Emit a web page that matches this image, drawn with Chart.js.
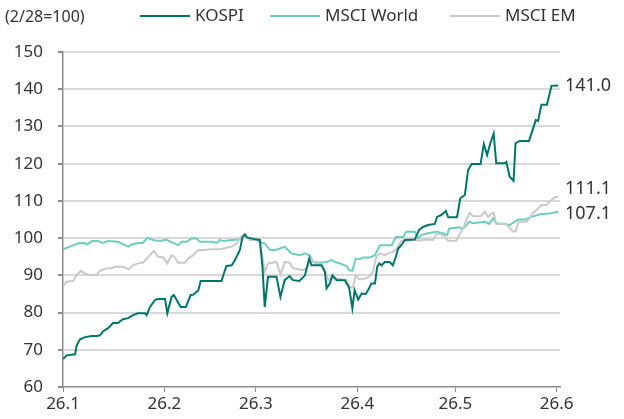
<!DOCTYPE html>
<html>
<head>
<meta charset="utf-8">
<script src="https://cdn.jsdelivr.net/npm/chart.js@4/dist/chart.umd.min.js"></script>
<style>
  html, body { margin: 0; padding: 0; background: #fff; }
  #wrap { width: 624px; height: 419px; position: relative; }
</style>
</head>
<body>
<div id="wrap"><canvas id="idxChart" width="624" height="419"></canvas></div>
<script>
// x = days since 2026-01-01
const monthDays = [0, 31, 59, 90, 120, 151];
const monthLabels = ['26.1', '26.2', '26.3', '26.4', '26.5', '26.6'];
const yTicks = [60, 70, 80, 90, 100, 110, 120, 130, 140, 150];
const unitNote = '(2/28=100)';
const seriesNames = ['KOSPI', 'MSCI World', 'MSCI EM'];
const seriesColors = ['#00766a', '#6ccfbe', '#c9c9c9'];
const endLabels = ['141.0', '107.1', '111.1'];

const kospiDays = [0, 1.1, 3.7, 4.2, 5.2, 6.7, 8.8, 10.3, 11.3, 12.3, 13.8, 15.3, 16.8, 18.3, 19.9, 21.4, 22.9, 25.1, 25.6, 26.6,
  28.1, 28.6, 31.2, 31.9, 33.2, 33.9, 34.8, 36.0, 37.6, 39.0, 39.8, 41.4, 42.1, 48.5, 49.2, 50.0, 51.6, 52.6, 54.1, 54.9,
  55.6, 56.3, 59.2, 60.2, 61.0, 61.7, 62.7, 65.3, 66.5, 67.8, 69.3, 70.3, 72.3, 74.0, 75.3, 76.0, 79.1, 80.1, 80.6, 81.6,
  82.4, 83.7, 86.2, 87.5, 88.5, 89.2, 90.3, 91.3, 92.6, 93.6, 94.3, 95.4, 96.1, 96.7, 97.4, 98.4, 99.9, 100.9, 101.8, 102.5,
  103.5, 104.5, 107.6, 108.9, 110.1, 111.6, 113.7, 114.4, 115.7, 117.1, 117.8, 120.5, 121.5, 122.9, 123.9, 125.0, 127.7, 128.7, 129.7, 130.7,
  131.7, 132.5, 135.1, 135.6, 136.6, 137.8, 138.4, 139.7, 142.5, 143.6, 144.6, 145.3, 146.3, 148.0, 149.4, 151.4];
const kospiVals = [67.5, 68.5, 68.8, 71.2, 72.8, 73.4, 73.7, 73.7, 73.9, 75.0, 75.8, 77.2, 77.2, 78.2, 78.5, 79.3, 79.8, 79.8, 79.3, 81.5,
  83.3, 83.6, 83.7, 79.8, 84.2, 84.7, 83.3, 81.5, 81.5, 84.7, 84.8, 86.0, 88.5, 88.5, 90.5, 92.5, 92.7, 94.1, 96.8, 100.3,
  101.0, 100.2, 99.6, 99.5, 92.3, 81.5, 89.6, 89.6, 84.2, 88.7, 89.8, 88.7, 88.5, 90.0, 94.5, 92.7, 92.7, 90.9, 86.5, 87.8,
  90.0, 88.7, 88.7, 86.7, 81.1, 86.0, 83.5, 85.1, 85.0, 86.5, 87.8, 87.8, 92.3, 93.2, 92.7, 93.6, 93.6, 92.7, 95.0, 97.2,
  98.1, 99.5, 99.6, 102.2, 103.0, 103.5, 103.8, 105.7, 106.2, 107.3, 105.6, 105.6, 110.7, 111.6, 118.3, 119.9, 119.9, 125.3, 122.3, 125.5,
  128.1, 120.1, 120.1, 120.5, 116.5, 115.4, 125.5, 126.1, 126.1, 129.0, 131.7, 131.5, 135.8, 135.8, 140.9, 141.0];

const worldDays = [0, 2.1, 4.7, 6.7, 7.4, 8.8, 10.8, 12.1, 13.8, 16.9, 18.4, 20.0, 21.0, 23.0, 24.4, 25.8, 27.1, 28.6, 30.2, 31.5,
  33.7, 35.2, 36.3, 37.8, 39.3, 40.9, 41.9, 45.9, 47.0, 48.0, 49.0, 51.6, 54.1, 55.6, 57.1, 59.2, 60.7, 61.7, 63.3, 64.8,
  66.3, 67.8, 69.9, 72.4, 74.0, 75.5, 76.5, 78.5, 80.6, 82.1, 83.1, 84.7, 86.7, 87.5, 88.5, 89.5, 90.8, 91.8, 93.8, 95.4,
  96.9, 100.5, 101.8, 104.0, 105.0, 107.6, 108.6, 109.6, 111.6, 114.2, 116.2, 117.5, 118.1, 121.3, 122.3, 123.4, 124.2, 125.4, 129.0, 130.3,
  131.5, 132.5, 135.6, 136.6, 139.2, 141.7, 143.2, 146.3, 148.8, 151.4];
const worldVals = [97.0, 97.7, 98.6, 98.7, 98.3, 99.2, 99.2, 98.7, 99.2, 99.0, 98.3, 97.7, 98.3, 98.7, 98.7, 100.1, 99.6, 99.3, 99.3, 99.6,
  98.7, 98.1, 99.0, 99.0, 99.9, 99.9, 99.0, 99.0, 98.7, 99.5, 99.2, 99.5, 99.6, 100.5, 99.6, 99.6, 98.7, 98.6, 96.8, 96.8,
  97.2, 97.7, 95.9, 95.4, 95.9, 95.4, 93.6, 93.4, 93.6, 94.1, 93.6, 93.2, 92.5, 91.4, 91.2, 94.5, 94.3, 94.8, 94.8, 95.4,
  98.1, 98.1, 100.3, 100.3, 101.7, 101.7, 99.9, 100.8, 101.3, 101.7, 101.3, 100.8, 102.6, 102.9, 102.5, 103.4, 104.4, 104.0, 104.4, 103.8,
  105.3, 104.0, 103.8, 103.5, 105.0, 105.0, 105.7, 106.5, 106.6, 107.1];

const emDays = [0, 1.1, 3.1, 4.0, 5.4, 6.7, 8.3, 10.3, 11.3, 13.4, 14.9, 15.9, 18.4, 20.0, 21.5, 23.5, 24.5, 26.1, 27.8, 29.1,
  30.7, 31.9, 33.2, 34.2, 35.2, 37.3, 38.3, 39.8, 41.4, 43.4, 44.9, 48.0, 49.0, 51.6, 52.9, 54.6, 55.6, 57.1, 59.2, 60.2,
  61.0, 61.7, 62.7, 65.3, 66.5, 67.8, 69.3, 70.3, 73.4, 74.5, 75.7, 77.0, 78.5, 80.1, 81.1, 82.1, 83.4, 86.7, 87.7, 88.7,
  89.5, 90.6, 92.8, 93.8, 94.8, 95.8, 96.9, 98.4, 99.9, 100.9, 102.0, 103.5, 105.0, 107.1, 108.6, 110.6, 113.2, 114.4, 116.2, 117.8,
  120.3, 121.3, 122.6, 123.6, 124.4, 125.4, 127.7, 129.0, 130.0, 131.0, 131.7, 132.5, 135.6, 136.4, 137.6, 138.4, 139.4, 141.7, 142.7, 143.8,
  144.8, 146.3, 147.8, 148.8, 150.3, 151.4];
const emVals = [87.1, 88.3, 88.5, 89.8, 91.2, 90.5, 90.1, 90.1, 91.2, 91.9, 91.9, 92.3, 92.3, 91.6, 92.7, 93.4, 93.4, 95.0, 96.6, 95.0,
  94.8, 93.2, 95.4, 94.8, 93.4, 93.4, 94.5, 95.4, 96.8, 96.8, 97.0, 97.0, 97.2, 97.7, 98.4, 100.5, 100.3, 99.6, 99.5, 98.7,
  95.0, 90.9, 93.2, 93.6, 90.1, 93.6, 93.4, 91.9, 91.4, 91.9, 94.5, 93.2, 93.2, 91.4, 88.7, 89.4, 89.2, 88.7, 86.9, 86.7,
  90.1, 88.9, 89.2, 89.8, 90.9, 95.0, 95.9, 95.4, 96.1, 96.3, 97.2, 99.3, 99.3, 99.6, 99.3, 99.6, 99.5, 101.3, 100.8, 99.3,
  99.3, 101.0, 103.0, 105.5, 106.8, 105.9, 105.9, 107.1, 105.7, 106.5, 106.8, 103.8, 103.8, 102.9, 101.8, 101.8, 104.4, 104.4, 105.3, 106.8,
  107.5, 108.9, 108.9, 109.8, 110.9, 111.1];

const FONT = '"Noto Sans", "DejaVu Sans", sans-serif';

function pts(days, vals) { return days.map((d, i) => ({ x: d, y: vals[i] })); }

// unit note + legend + end-of-line values
const extrasPlugin = {
    id: 'extras',
    afterDraw(chart) {
        const ctx = chart.ctx;
        const area = chart.chartArea;
        ctx.save();
        ctx.fillStyle = '#333';
        ctx.textBaseline = 'middle';
        ctx.textAlign = 'left';
        ctx.font = '16px ' + FONT;
        ctx.fillText(unitNote, 5, 17);
        ctx.font = '17px ' + FONT;
        const legendX = [140, 270, 450];
        seriesNames.forEach((name, i) => {
            ctx.strokeStyle = seriesColors[i];
            ctx.lineWidth = 2;
            ctx.beginPath();
            ctx.moveTo(legendX[i], 16);
            ctx.lineTo(legendX[i] + 50, 16);
            ctx.stroke();
            ctx.fillText(name, legendX[i] + 55, 16);
        });
        const offsets = [0, 2, -8];
        ctx.font = '18px ' + FONT;
        chart.data.datasets.forEach((ds, i) => {
            const meta = chart.getDatasetMeta(i);
            const last = meta.data[meta.data.length - 1];
            ctx.fillText(endLabels[i], area.right + 5, last.y + offsets[i]);
        });
        ctx.restore();
    }
};

const chartEl = document.getElementById('idxChart');
const idxChart = new Chart(chartEl.getContext('2d'), {
    type: 'line',
    data: {
        datasets: [
            { label: seriesNames[0], data: pts(kospiDays, kospiVals), borderColor: seriesColors[0], backgroundColor: seriesColors[0], borderWidth: 2, order: 0 },
            { label: seriesNames[1], data: pts(worldDays, worldVals), borderColor: seriesColors[1], backgroundColor: seriesColors[1], borderWidth: 2, order: 2 },
            { label: seriesNames[2], data: pts(emDays, emVals), borderColor: seriesColors[2], backgroundColor: seriesColors[2], borderWidth: 2, order: 1 }
        ]
    },
    options: {
        responsive: false,
        animation: false,
        devicePixelRatio: 1,
        layout: { padding: { top: 52, right: 64, left: 0, bottom: 0 } },
        elements: { point: { radius: 0 }, line: { tension: 0 } },
        plugins: { legend: { display: false }, tooltip: { enabled: false } },
        scales: {
            x: {
                type: 'linear',
                min: 0,
                max: 152,
                afterBuildTicks: axis => { axis.ticks = monthDays.map(v => ({ value: v })); },
                afterFit: axis => { axis.height = 32; },
                ticks: {
                    autoSkip: false,
                    maxRotation: 0,
                    padding: 2,
                    color: '#333',
                    font: { family: FONT, size: 17 },
                    callback: v => monthLabels[monthDays.indexOf(v)]
                },
                grid: { drawOnChartArea: false, drawTicks: true, tickLength: 5, tickColor: '#8c8c8c' },
                border: { color: '#8c8c8c', width: 1.5 }
            },
            y: {
                min: 60,
                max: 150,
                afterBuildTicks: axis => { axis.ticks = yTicks.map(v => ({ value: v })); },
                afterFit: axis => { axis.width = 63; },
                ticks: {
                    padding: 15,
                    color: '#333',
                    font: { family: FONT, size: 17 }
                },
                grid: {
                    color: c => (c.tick && c.tick.value === 60) ? 'rgba(0,0,0,0)' : '#d9d9d9',
                    lineWidth: 2,
                    tickLength: 5,
                    tickColor: '#8c8c8c'
                },
                border: { color: '#8c8c8c', width: 1.5 }
            }
        }
    },
    plugins: [extrasPlugin]
});
</script>
</body>
</html>
